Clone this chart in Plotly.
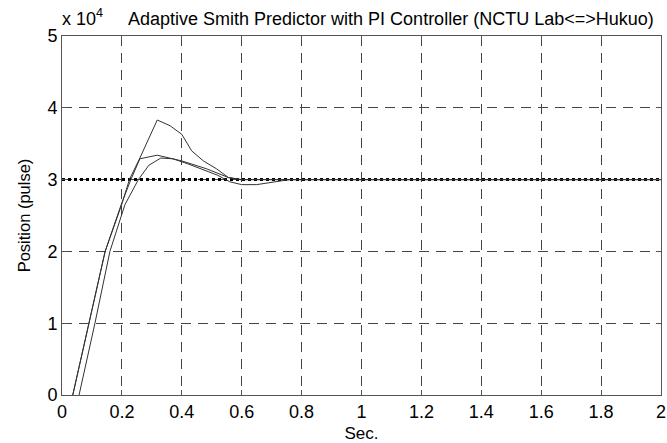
import plotly.graph_objects as go

# Data (time in seconds, position in units of 1e4 pulses)
t_a = [0.036, 0.09, 0.144, 0.20, 0.225, 0.26, 0.318, 0.361, 0.40, 0.433, 0.472, 0.516, 0.555, 0.594, 0.70, 1.0, 2.0]
y_a = [0.0, 1.0, 2.0, 2.66, 3.0, 3.30, 3.83, 3.75, 3.63, 3.40, 3.26, 3.15, 3.03, 3.0, 3.0, 3.0, 3.0]

t_b = [0.036, 0.09, 0.144, 0.20, 0.23, 0.26, 0.318, 0.40, 0.483, 0.555, 0.60, 0.70, 1.0, 2.0]
y_b = [0.0, 1.0, 2.0, 2.68, 3.0, 3.29, 3.34, 3.26, 3.15, 3.03, 3.0, 3.0, 3.0, 3.0]

t_c = [0.057, 0.11, 0.16, 0.21, 0.255, 0.29, 0.33, 0.37, 0.42, 0.47, 0.52, 0.56, 0.60, 0.65, 0.70, 0.76, 1.0, 2.0]
y_c = [0.0, 1.0, 2.0, 2.65, 3.0, 3.20, 3.30, 3.29, 3.22, 3.14, 3.06, 2.97, 2.93, 2.93, 2.96, 3.0, 3.0, 3.0]

t_ref = [0.0, 2.0]
y_ref = [3.0, 3.0]

x_ticks = [0, 0.2, 0.4, 0.6, 0.8, 1.0, 1.2, 1.4, 1.6, 1.8, 2.0]
x_tick_labels = ["0", "0.2", "0.4", "0.6", "0.8", "1", "1.2", "1.4", "1.6", "1.8", "2"]
y_ticks = [0, 1, 2, 3, 4, 5]
y_tick_labels = ["0", "1", "2", "3", "4", "5"]

FONT = "Liberation Sans, Arial, Helvetica, sans-serif"

fig = go.Figure()
fig.add_trace(go.Scatter(x=t_ref, y=y_ref, mode="lines",
                         line=dict(color="black", width=3, dash="dot"), hoverinfo="skip"))
for tx, ty in [(t_a, y_a), (t_b, y_b), (t_c, y_c)]:
    fig.add_trace(go.Scatter(x=tx, y=ty, mode="lines",
                             line=dict(color="#333333", width=1), hoverinfo="skip"))

axis_common = dict(
    showline=True, linecolor="#555555", linewidth=1, mirror="ticks",
    ticks="inside", ticklen=5, tickcolor="#555555",
    showgrid=True, gridcolor="#444444", gridwidth=1, griddash="10px,7px",
    zeroline=False, tickfont=dict(family=FONT, size=18, color="black"),
    automargin=False,
)

fig.update_xaxes(range=[0, 2], tickvals=x_ticks, ticktext=x_tick_labels,
                 title=dict(text="Sec.", font=dict(family=FONT, size=17, color="black"), standoff=6),
                 **axis_common)
fig.update_yaxes(range=[0, 5], tickvals=y_ticks, ticktext=y_tick_labels,
                 title=dict(text="Position (pulse)", font=dict(family=FONT, size=16.5, color="black"), standoff=12),
                 **axis_common)

fig.add_annotation(xref="paper", yref="paper", x=0.0, y=1.0, xanchor="left", yanchor="bottom",
                   xshift=-2, yshift=5,
                   text="x 10<sup>4</sup>", showarrow=False,
                   font=dict(family=FONT, size=18, color="black"))
fig.add_annotation(xref="paper", yref="paper", x=0.549, y=1.0, xanchor="center", yanchor="bottom",
                   yshift=5,
                   text="Adaptive Smith Predictor with PI Controller (NCTU Lab&lt;=&gt;Hukuo)", showarrow=False,
                   font=dict(family=FONT, size=18, color="black"))

fig.update_layout(
    width=667, height=443,
    margin=dict(l=62, r=6, t=36, b=48, autoexpand=False),
    paper_bgcolor="white", plot_bgcolor="white",
    showlegend=False,
)

fig.write_html("out.html")
